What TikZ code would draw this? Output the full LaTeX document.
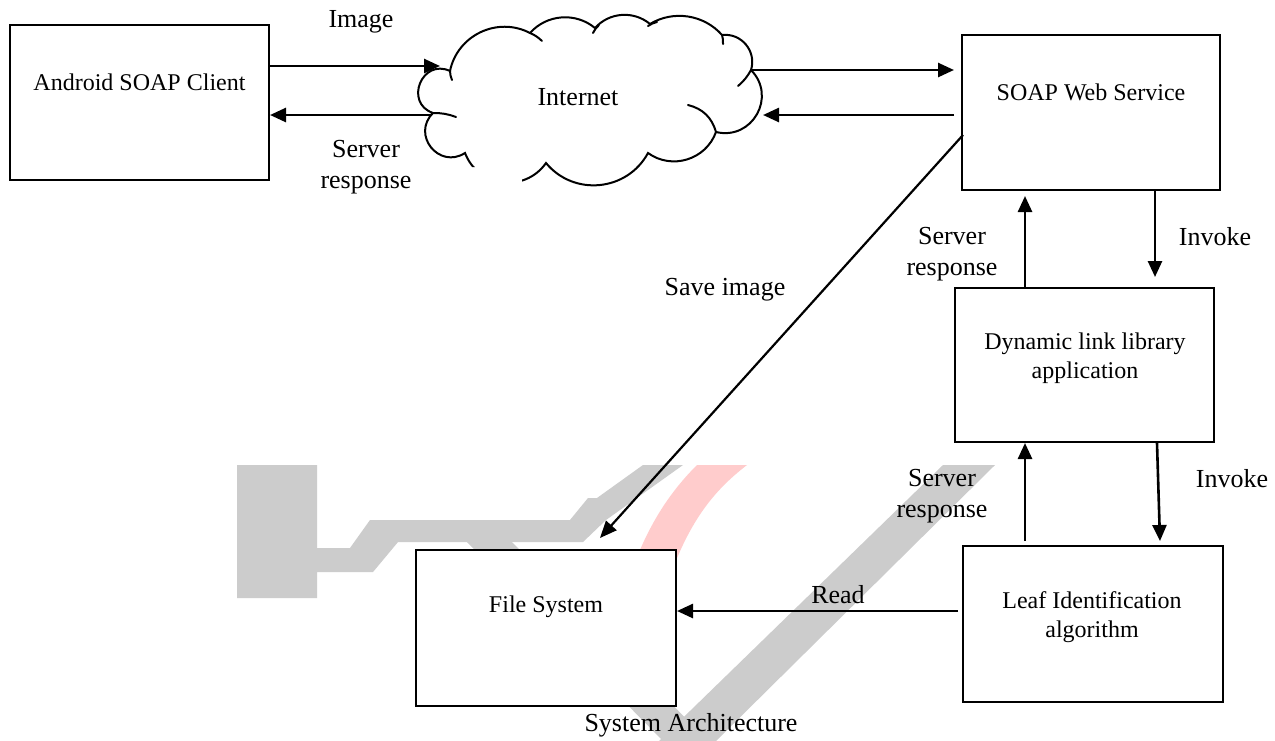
\documentclass[tikz,border=0pt]{standalone}
\usepackage{fontspec}
\setmainfont{Liberation Serif}
\usetikzlibrary{arrows.meta}
\definecolor{wmgray}{HTML}{CCCCCC}
\definecolor{wmpink}{HTML}{FFCCCC}
\begin{document}
\begin{tikzpicture}[x=1pt,y=-1pt,
  box/.style={draw=black, line width=2pt, fill=white, inner sep=0pt},
  boxtxt/.style={font=\fontsize{24}{29}\selectfont, align=center, inner sep=0pt},
  lbl/.style={font=\fontsize{26}{31}\selectfont, align=center, inner sep=0pt},
  cloudline/.style={line width=2pt, line cap=round},
  arr/.style={line width=2.6pt, -{Triangle[length=16pt,width=14pt]}},
  thinarr/.style={line width=2.2pt, -{Triangle[length=17pt,width=14pt]}}]
\useasboundingbox (0,0) rectangle (1275,740);
\fill[white] (0,0) rectangle (1275,740);

% watermark
\begin{scope}
\clip (0,465) rectangle (1275,740);
\fill[wmgray] (237,465) -- (317,465) -- (317,548) -- (350,548) -- (370,520) -- (570,520) -- (588,498) -- (597,498) -- (643,465) -- (683,465) -- (606,520) -- (583,542) -- (398,542) -- (373,572) -- (317,572) -- (317,598) -- (237,598) -- cycle;
\fill[wmgray] (467,542) -- (512,542) -- (712,745) -- (667,745) -- cycle;
\fill[wmgray] (943,465) -- (995,465) -- (712,745) -- (655,745) -- cycle;
\fill[wmpink] (697,465) -- (747,465) .. controls (712,492) and (685,525) .. (662,600) -- (622,600) .. controls (640,540) and (662,500) .. (697,465) -- cycle;
\end{scope}

% cloud
\begin{scope}
\clip (380,0) -- (800,0) -- (800,220) -- (522,220) -- (522,167) -- (380,167) -- cycle;
\draw[cloudline, fill=white] (450,71)
  to[bend left=53, looseness=1.06] (530,33)
  to[bend left=44, looseness=0.99] (595,28)
  to[bend left=44, looseness=0.99] (650,24)
  to[bend left=40, looseness=0.96] (722,35)
  to[bend left=57, looseness=1.1] (751,70)
  to[bend left=74, looseness=1.34] (716,132)
  to[bend left=53, looseness=1.06] (648,153)
  to[bend left=56, looseness=1.09] (546,163)
  to[bend left=62, looseness=1.16] (465,153)
  to[bend left=84, looseness=1.54] (433,113)
  to[bend left=93, looseness=1.75] (450,71) -- cycle;
\draw[cloudline] (450,71) to[bend right=10] (452,80);
\draw[cloudline] (530,33) to[bend left=10] (542,41);
\draw[cloudline] (593,33) to[bend left=10] (599,25);
\draw[cloudline] (648,26) to[bend left=10] (657,22);
\draw[cloudline] (722,35) to[bend left=10] (723,44);
\draw[cloudline] (751,70) to[bend left=10] (738,86);
\draw[cloudline] (688,105) to[bend left=30] (716,132);
\draw[cloudline] (433,113) to[bend left=10] (456,117);
\end{scope}
\node[lbl] (internet) at (578,97) {Internet};

% boxes
\node[box, minimum width=259pt, minimum height=155pt] (android) at (139.5,102.5) {};
\node[boxtxt] (androidtxt) at (139.5,82) {Android SOAP Client};
\node[box, minimum width=258pt, minimum height=155pt] (soap) at (1091,112.5) {};
\node[boxtxt] (soaptxt) at (1091,92) {SOAP Web Service};
\node[box, minimum width=259pt, minimum height=154pt] (dll) at (1084.5,365) {};
\node[boxtxt] (dlltxt) at (1085,358) {Dynamic link library\\application};
\node[box, minimum width=260pt, minimum height=156pt] (leaf) at (1093,624) {};
\node[boxtxt] (leaftxt) at (1092,617) {Leaf Identification\\algorithm};
\node[box, minimum width=260pt, minimum height=156pt] (files) at (546,628) {};
\node[boxtxt] (filestxt) at (546,607) {File System};

% connector end coordinates
\coordinate (imgEnd) at (440,66);
\coordinate (resStart) at (432,115);
\coordinate (netOut) at (752,70);
\coordinate (netIn) at (763,115);
\coordinate (saveStart) at (963,135);
\coordinate (saveEnd) at (600,538);
\coordinate (xA) at (1025,0);
\coordinate (xB) at (1155,0);
\coordinate (xC) at (1157,0);
\coordinate (xD) at (1160,0);
\coordinate (readY) at (0,611);

% connectors
\draw[arr] (android.east |- imgEnd) -- (imgEnd);
\draw[arr] (resStart) -- (android.east |- resStart);
\draw[arr] (netOut) -- ([xshift=-7pt]soap.west |- netOut);
\draw[arr] ([xshift=-7pt]soap.west |- netIn) -- (netIn);
\draw[thinarr] (saveStart) -- (saveEnd);
\draw[arr] (dll.north -| xA) -- ([yshift=-5pt]soap.south -| xA);
\draw[arr] (soap.south -| xB) -- ([yshift=10pt]dll.north -| xB);
\draw[arr] ([yshift=4pt]leaf.north -| xA) -- (dll.south -| xA);
\draw[arr] (dll.south -| xC) -- ([yshift=4pt]leaf.north -| xD);
\draw[arr] ([xshift=-4pt]leaf.west |- readY) -- (files.east |- readY);

% labels
\node[lbl] (limage) at (361,22) {Image};
\node[lbl] (lres1) at (366,167) {Server\\response};
\node[lbl] (lsave) at (725,290) {Save image};
\node[lbl] (lres2) at (952,254) {Server\\response};
\node[lbl] (linv1) at (1215,237) {Invoke};
\node[lbl] (lres3) at (942,496) {Server\\response};
\node[lbl] (linv2) at (1232,479) {Invoke};
\node[lbl] (lread) at (838,595) {Read};
\node[lbl] (lcap) at (691,725) {System Architecture};
\end{tikzpicture}
\end{document}
